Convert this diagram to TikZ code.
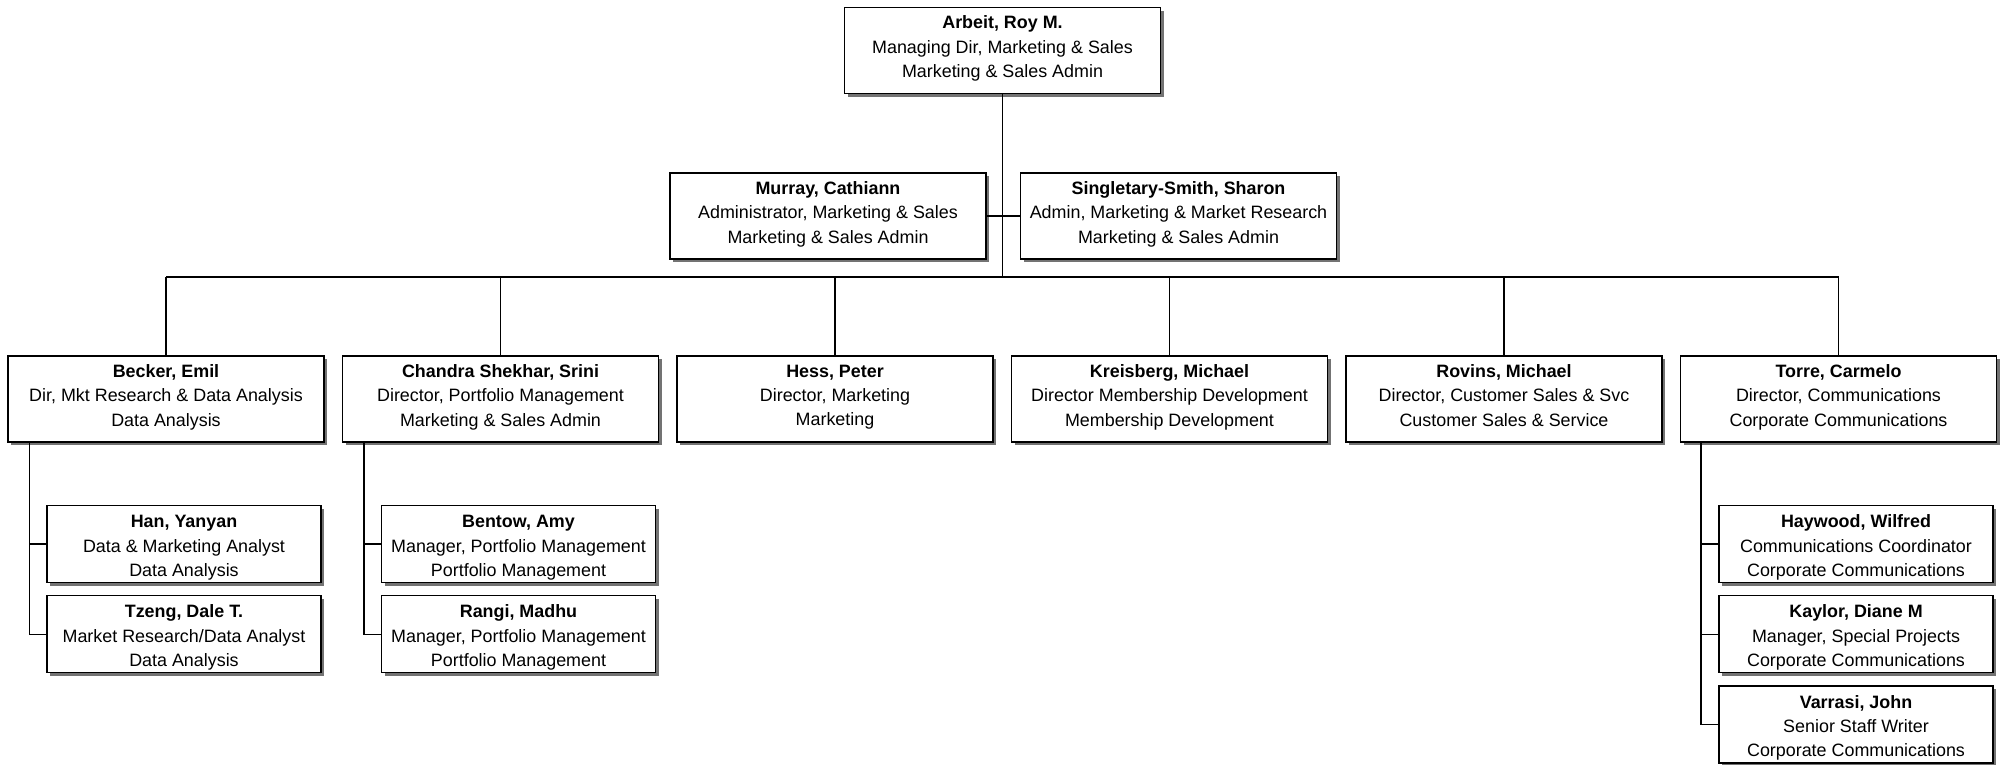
\documentclass[tikz,border=0pt]{standalone}
\usepackage{fontspec}
\setmainfont{Liberation Sans}
\usetikzlibrary{positioning,shadows}

\begin{document}
\begin{tikzpicture}[x=1pt,y=-1pt,line width=1.2pt,
                    font=\fontsize{17.9}{24.4}\selectfont,
                    card/.style={rectangle,draw,fill=white,align=center,inner sep=0pt,
                      drop shadow={shadow xshift=3pt,shadow yshift=-3pt,fill=black!55,opacity=1}},
                    boss node/.style={card,minimum width=316pt,minimum height=86pt,
                      execute at begin node=\strut,execute at end node=\strut},
                    staff node/.style={card,minimum width=274pt,minimum height=77pt,
                      execute at begin node={\rule{0pt}{68.6pt}}}
                   ]
  \useasboundingbox (0,0) rectangle (2001,764);

  \node[boss node] (arbeit) at (1002.5,50.5) {\textbf{Arbeit, Roy M.}\\Managing Dir, Marketing \& Sales\\Marketing \& Sales Admin};
  \node[boss node] (murray) at (828,216) {\textbf{Murray, Cathiann}\\Administrator, Marketing \& Sales\\Marketing \& Sales Admin};
  \node[boss node] (singletary) at (1178.5,216) {\textbf{Singletary-Smith, Sharon}\\Admin, Marketing \& Market Research\\Marketing \& Sales Admin};

  \node[boss node] (becker) at (166,399) {\textbf{Becker, Emil}\\Dir, Mkt Research \& Data Analysis\\Data Analysis};
  \node[boss node] (chandra) [right=17.3pt of becker] {\textbf{Chandra Shekhar, Srini}\\Director, Portfolio Management\\Marketing \& Sales Admin};
  \node[boss node] (hess) [right=17.3pt of chandra] {\textbf{Hess, Peter}\\Director, Marketing\\Marketing};
  \node[boss node] (kreisberg) [right=17.3pt of hess] {\textbf{Kreisberg, Michael}\\Director Membership Development\\Membership Development};
  \node[boss node] (rovins) [right=17.3pt of kreisberg] {\textbf{Rovins, Michael}\\Director, Customer Sales \& Svc\\Customer Sales \& Service};
  \node[boss node] (torre) [right=17.3pt of rovins] {\textbf{Torre, Carmelo}\\Director, Communications\\Corporate Communications};

  \node[staff node] (han) at (184,544) {\textbf{Han, Yanyan}\\Data \& Marketing Analyst\\Data Analysis};
  \node[staff node] (tzeng) [below=12pt of han] {\textbf{Tzeng, Dale T.}\\Market Research/Data Analyst\\Data Analysis};
  \node[staff node] (bentow) at (518.5,544) {\textbf{Bentow, Amy}\\Manager, Portfolio Management\\Portfolio Management};
  \node[staff node] (rangi) [below=12pt of bentow] {\textbf{Rangi, Madhu}\\Manager, Portfolio Management\\Portfolio Management};
  \node[staff node] (haywood) at (1856,544) {\textbf{Haywood, Wilfred}\\Communications Coordinator\\Corporate Communications};
  \node[staff node] (kaylor) [below=12pt of haywood] {\textbf{Kaylor, Diane M}\\Manager, Special Projects\\Corporate Communications};
  \node[staff node] (varrasi) [below=12pt of kaylor] {\textbf{Varrasi, John}\\Senior Staff Writer\\Corporate Communications};

  % trunk and bus
  \coordinate (bus) at (0,277);
  \draw (arbeit) -- (arbeit |- bus);
  \draw (murray) -- (murray -| arbeit);
  \draw (singletary) -- (singletary -| arbeit);
  \draw (becker |- bus) -- (torre |- bus);
  \foreach \n in {becker,chandra,hess,kreisberg,rovins,torre}
    \draw (\n |- bus) -- (\n);

  % side drops to the staff
  \coordinate (beckerdrop) at ([xshift=22pt]becker.south west);
  \coordinate (chandradrop) at ([xshift=22pt]chandra.south west);
  \coordinate (torredrop) at ([xshift=21pt]torre.south west);
  \draw (beckerdrop) |- (han);
  \draw (beckerdrop) |- (tzeng);
  \draw (chandradrop) |- (bentow);
  \draw (chandradrop) |- (rangi);
  \draw (torredrop) |- (haywood);
  \draw (torredrop) |- (kaylor);
  \draw (torredrop) |- (varrasi);
\end{tikzpicture}
\end{document}
